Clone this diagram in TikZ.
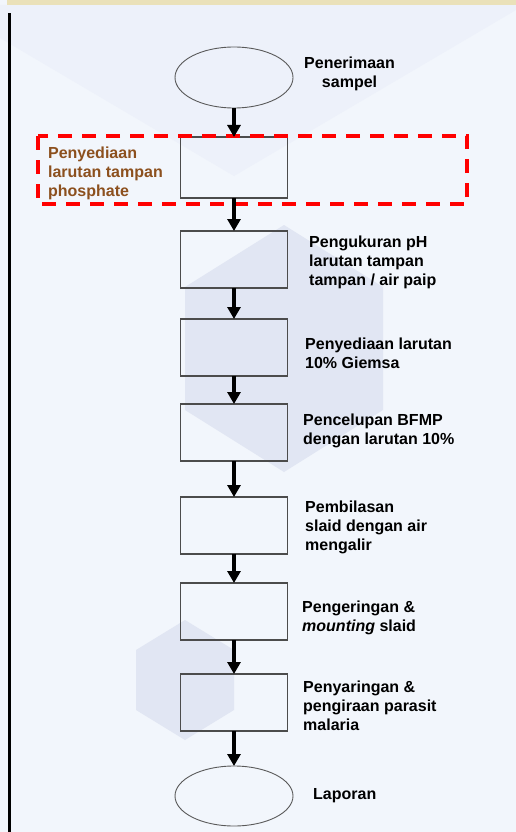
\documentclass[tikz,border=0pt]{standalone}
\usepackage{fontspec}
\setmainfont{Liberation Sans}
\usepackage{tikz}
\usetikzlibrary{arrows.meta, shapes.geometric, positioning}
\usepackage{xcolor}
\definecolor{bgblue}{RGB}{242,246,252}
\definecolor{bgshade}{RGB}{237,241,250}
\definecolor{hexblue}{RGB}{225,230,243}
\definecolor{bandtan}{RGB}{234,225,185}
\definecolor{brownlbl}{RGB}{140,80,30}

\begin{document}
\begin{tikzpicture}[x=1pt, y=1pt, node distance=30pt,
          every node/.style={font=\bfseries\fontsize{16}{19}\selectfont},
          stepbox/.style={draw=black!70, line width=1.2pt, minimum width=107pt,
                      minimum height=57pt, inner sep=0pt, outer sep=0pt},
          oval/.style={ellipse, draw=black!65, line width=0.9pt, minimum width=118pt,
                      minimum height=61pt, inner sep=0pt, outer sep=0pt},
          note/.style={align=left, inner sep=0pt},
          flow/.style={-{Triangle[length=12pt,width=13pt]}, line width=4pt},
          redframe/.style={draw=red, line width=3.5pt, dash pattern=on 14pt off 10pt}]
        \useasboundingbox (0,0) rectangle (516,-832);
        % background
        \fill[bgblue] (0,0) rectangle (516,-832);
        \fill[bgshade] (0,-5) -- (0,-38) -- (234,-176) -- (516,-10) -- (516,-5) -- cycle;
        \fill[hexblue] (284,-225) -- (383,-287) -- (383,-410) -- (284,-472)
                    -- (185,-410) -- (185,-287) -- cycle;
        \fill[hexblue] (185,-620) -- (234,-650) -- (234,-710) -- (185,-740)
                    -- (136,-710) -- (136,-650) -- cycle;
        \fill[bandtan] (7,0) rectangle (516,-5);
        \fill[black] (8,-13) rectangle (11,-832);

        \node[oval] (rcv) at (234,-77.5) {};
        \node[stepbox, minimum height=61pt, below=29pt of rcv] (buf) {};
        \node[stepbox, below=33pt of buf]    (ph)     {};
        \node[stepbox, below=31pt of ph]     (giemsa) {};
        \node[stepbox, below=28pt of giemsa] (dip)    {};
        \node[stepbox, below=36pt of dip]    (rinse)  {};
        \node[stepbox, below=29pt of rinse]  (dry)    {};
        \node[stepbox, below=34pt of dry]    (count)  {};
        \node[oval, minimum height=60pt, below=35pt of count] (rep) {};

        \node[note, align=center, right=11pt of rcv, yshift=4pt] (rcvtxt) {Penerimaan\\sampel};
        \node[note, text=brownlbl, left=17.5pt of buf, yshift=-5.5pt] (buftxt)
              {Penyediaan\\larutan tampan\\phosphate};
        \node[note, right=21.5pt of ph, yshift=-2.5pt] (phtxt)
              {Pengukuran pH\\larutan tampan\\tampan / air paip};
        \node[note, right=17.5pt of giemsa, yshift=-6pt] (giemsatxt)
              {Penyediaan larutan\\10\% Giemsa};
        \node[note, right=15.5pt of dip, yshift=2pt] (diptxt)
              {Pencelupan BFMP\\dengan larutan 10\%};
        \node[note, right=17.5pt of rinse, yshift=-1.5pt] (rinsetxt)
              {Pembilasan\\slaid dengan air\\mengalir};
        \node[note, right=14.5pt of dry, yshift=-6pt] (drytxt)
              {Pengeringan \&\\\textit{mounting} slaid};
        \node[note, right=15.5pt of count, yshift=-3.5pt] (counttxt)
              {Penyaringan \&\\pengiraan parasit\\malaria};
        \node[note, right=20pt of rep] (reptxt) {Laporan};

        \draw[redframe] (38,-136) rectangle (467,-204);

        \draw[flow] (rcv) -- (buf);
        \draw[flow] (buf) -- (ph);
        \draw[flow] (ph) -- (giemsa);
        \draw[flow] (giemsa) -- (dip);
        \draw[flow] (dip) -- (rinse);
        \draw[flow] (rinse) -- (dry);
        \draw[flow] (dry) -- (count);
        \draw[flow] (count) -- (rep);
      \end{tikzpicture}
\end{document}
